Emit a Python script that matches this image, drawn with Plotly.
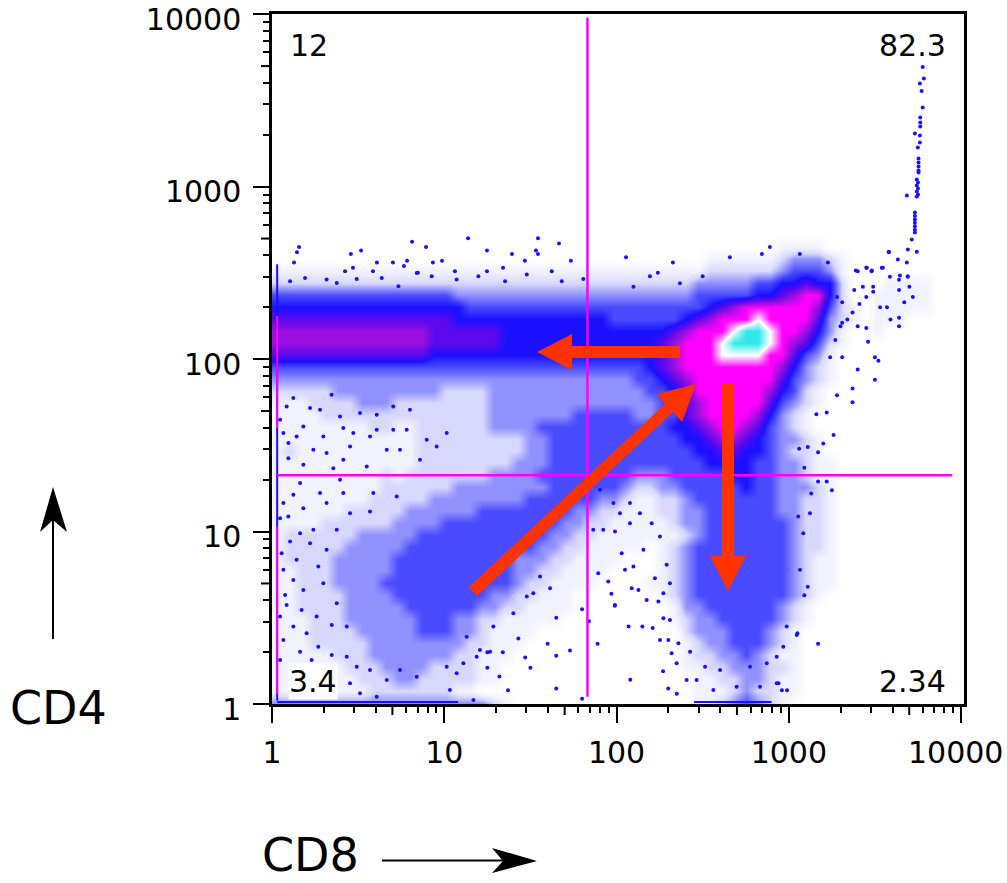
import plotly.graph_objects as go

X_MAJOR = [1, 10, 100, 1000, 10000]
Y_MAJOR = [1, 10, 100, 1000, 10000]
MAJOR_LABELS = ["1", "10", "100", "1000", "10000"]
MINOR_STEPS = [2, 3, 4, 6, 7, 8, 9]
CD8_GATE = 67.8
CD4_GATE = 21.2
QUADRANT_LABELS = ["12", "82.3", "3.4", "2.34"]

# Event density, top to bottom, in columns of 0.0696 decade.
# 0 none .. 5 solid blue .. 8 magenta, 9 white, c cyan
BLANK_ROWS_ON_TOP = 19
DENSITY_ROWS = [
"0000000000 0000000000 0000000000 0000000000 0011110000 00000000",
"0000000000 0000000000 0000000000 0000001111 1123332100 00000000",
"1111111111 1111111111 1111111111 1111112222 2234443100 00000000",
"2222222222 2222222222 2222222222 2222233333 4455655200 01111000",
"4444444444 4444433333 3333333333 3333344444 5567885200 11111000",
"5555555555 5555554444 4444444444 4444445678 8888874210 11111000",
"6666666666 6666655555 5555555544 4444567888 9888863210 11100000",
"7777777777 7776666665 5555555555 555678889c c988753100 10000000",
"7777777777 7776666665 5555555555 55678889cc c987642100 00000000",
"6666666666 6665555555 5555555555 5567888999 9886431000 00000000",
"4444444444 4444444444 4444444444 4567888888 8875321000 00000000",
"3333333333 3333333333 3333333333 4456788888 8864321000 00000000",
"2222233333 3333222233 3333333333 3445688888 8754210000 00000000",
"1112222333 2222222233 3333333333 3345678888 8643210000 00000000",
"1111222222 2222222233 3333344444 3344678888 7532100000 00000000",
"1111111122 1122222233 3344444444 4445567887 6432100000 00000000",
"1111111111 1122222222 2334444444 4444556776 5433210000 00000000",
"1211111111 1122222222 2334444444 4444455665 5432210000 00000000",
"1111111111 1122222222 3334444444 4444445555 4433211000 00000000",
"1111111112 1222222233 3344444444 3334444455 4433211000 00000000",
"1111111112 2222233333 3334444443 2233444445 4433321000 00000000",
"1111111122 2223333333 3444444332 1122344444 4433221000 00000000",
"1111112222 2333333444 4444433221 1122334444 4433221000 00000000",
"1111222222 3333444444 4444332211 1112334444 4443221000 00000000",
"1222222333 3344444444 4443322111 1111234444 4443221000 00000000",
"1222223333 3444444444 4433221111 1012344444 4443221000 00000000",
"1222233333 4444444444 3332211110 0012344444 4443211000 00000000",
"1122233333 4444444444 3322111100 0012344444 4443211000 00000000",
"1122233334 4444444444 3221111000 0112344444 4443211000 00000000",
"1122223333 4444444433 2211100000 0012344444 4443210000 00000000",
"1122223333 3444444332 2111100000 0001334444 4432100000 00000000",
"1112223333 3344433221 1111000000 0001233444 4432100000 00000000",
"1112222333 3344433211 1100000000 0000233344 4321000000 00000000",
"1112222233 3333332211 1000000000 0000123344 4321000000 00000000",
"1111122233 3333322111 0000000000 0000122334 3211000000 00000000",
"1111112223 3332222110 0000000000 0000112233 3221000000 00000000",
"1111111222 3322222110 0000000000 0000011223 3211000000 00000000",
"1111111122 2222211000 0000000000 0000011123 2211000000 00000000",
"3333333333 3333333321 0000000000 0000011234 3210000000 00000000",
]
BIN_DECADES = 0.0696
TOP_BIN_CENTRE_DECADE = 3.971

# Single events, as decades of CD8 and CD4
DIAG_CD8 = [3.777,3.784,3.761,3.771,3.777,3.763,3.763,3.763,3.732,3.761,3.761,3.749,3.753,3.753,3.753,3.753,3.753,
            3.743,3.750,3.743,3.750,3.743,3.750,3.743,3.685,3.732,3.732,3.732,3.732,3.732,3.732,3.732,3.714,3.691,
            3.743,3.581,3.633,3.685,3.691,3.645,3.389,3.453,3.482,3.546,3.587]
DIAG_CD4 = [3.693,3.627,3.598,3.554,3.459,3.401,3.372,3.349,3.308,3.297,3.256,3.227,3.163,3.140,3.117,3.093,3.082,
            3.041,3.024,3.007,2.989,2.972,2.955,2.943,2.948,2.85,2.83,2.81,2.79,2.77,2.75,2.734,2.693,2.635,
            2.623,2.623,2.577,2.56,2.478,2.484,2.513,2.53,2.513,2.53,2.478]
RIGHT_CD8 = [3.28,3.31,3.40,3.45,3.48,3.54,3.49,3.43,3.38,3.37,3.34,3.31,3.40,3.45,3.30,3.57,3.64,3.64,3.59,3.53,
             3.45,3.41,3.49,3.64,3.64,3.67,3.69,3.70,3.72,3.58,
             3.27,3.46,3.50,3.52,3.31,3.24,3.40,3.50,3.37,3.28,3.37,3.22,3.16,3.26,3.20,3.17,3.11,3.06,3.09]
RIGHT_CD4 = [2.36,2.33,2.51,2.53,2.51,2.53,2.42,2.42,2.40,2.27,2.23,2.21,2.19,2.18,2.19,2.30,2.24,2.19,2.23,2.30,
             2.36,2.32,2.39,2.46,2.40,2.33,2.48,2.42,2.36,2.62,
             2.11,2.10,2.01,1.99,2.01,2.01,1.94,1.88,1.83,1.79,1.75,1.69,1.68,1.56,1.51,1.46,1.49,1.48,1.37]
UPPER_CD8 = [.157,.145,.128,.458,.517,.609,.702,.784,.766,.813,.894,.934,.987,1.138,1.248,1.393,1.468,1.544,1.532,
             1.544,1.666,1.735,1.341,1.248,1.062,.847,.586,.470,.424,2.055,2.327,2.658,2.89,2.844,3.064,3.227,
             .105,.192,.317,.376,.492,.637,.734,.840,.927,1.072,1.198,1.353,1.479,1.624,1.682,1.807,2.194,2.24,2.098,2.368,2.50]
UPPER_CD4 = [2.65,2.62,2.56,2.61,2.63,2.56,2.56,2.57,2.54,2.68,2.65,2.56,2.57,2.70,2.63,2.61,2.57,2.70,2.63,
             2.61,2.67,2.57,2.53,2.51,2.51,2.50,2.51,2.53,2.51,2.59,2.56,2.59,2.65,2.61,2.61,2.56,
             2.451,2.470,2.461,2.441,2.465,2.470,2.422,2.499,2.480,2.461,2.480,2.451,2.490,2.509,2.451,2.465,2.48,2.50,2.42,2.44,2.48]
LOWER_CD8 = [1.37,1.32,1.47,1.50,1.60,1.65,1.73,1.65,1.80,1.84,1.65,1.80,1.34,1.25,1.43,1.25,
             2.08,1.89,2.07,2.15,2.21,1.99,1.97,3.17,3.11,3.09,3.05,2.94,2.99,2.96,3.25,3.22,3.17,3.13,2.27,2.30,2.35]
LOWER_CD4 = [.08,.16,.27,.21,.35,.28,.31,.50,.55,.48,.09,.03,.30,.21,.38,.30,
             .14,.35,.45,.45,.44,.57,.64,.35,.68,.63,.41,.12,.08,.08,1.24,1.29,1.29,1.22,.19,.09,.06]
SPARSE_LEFT_CD8 = [.124,.085,.221,.346,.279,.395,.182,.298,.414,.143,.095,.240,.047,.066,.317,.472,.453,.569,.608,.666,
                   .511,.608,.704,.782,.743,.898,.859,.956,1.014,.801,.704,.414,.182,.095,.550,.356,
                   .163,.395,.124,.279,.414,.588,.724,.066,.182,.317,.453,.569,.095,.047,.240,.376,.163,.105,.056,.221,
                   .317,.143,.066,.269,.124,.076,.182,.085,.298,.047,.172,.259,.376,.124,.347,.066,.201,.434,.163,.269,
                   .347,.047,.230,.434,.492,.569,.453,.666,.743,.511,.608,.840,1.014,1.072,1.111,1.188,1.130,1.207,
                   1.033,1.169,1.266,1.285,1.401,1.479,1.556,1.614,1.517]
SPARSE_LEFT_CD4 = [1.774,1.725,1.716,1.793,1.706,1.667,1.609,1.551,1.600,1.551,1.513,1.474,1.648,1.571,1.455,1.571,1.493,1.551,1.590,1.474,
                   1.687,1.677,1.590,1.590,1.474,1.532,1.416,1.493,1.571,1.706,1.725,1.416,1.387,1.425,1.377,1.367,
                   1.281,1.300,1.213,1.223,1.223,1.223,1.203,1.165,1.135,1.165,1.106,1.116,1.087,1.077,1.010,1.010,.990,.942,.874,.932,
                   .894,.836,.778,.797,.719,.632,.661,.574,.700,.507,.545,.507,.584,.449,.458,.371,.410,.449,.303,.332,
                   .284,.255,.255,.274,.216,.197,.120,.139,.197,.062,.042,.158,.216,.178,.236,.274,.390,.313,
                   .081,.023,.303,.449,.526,.623,.739,.671,.642]
SPARSE_GAP_CD8 = [1.865,1.923,1.991,2.078,2.136,2.204,2.252,2.156,2.030,2.098,2.223,2.291,1.894,2.049,1.952,2.088,2.127,
                  2.175,2.243,2.310,2.272,1.991,2.272,2.310,2.252,2.301,2.359,2.320,2.427,2.349,2.407,2.465,2.514,2.601,
                  2.775,2.872,2.930,2.968,3.046,2.988,3.065,3.084,3.055,3.123,2.930,2.833,2.562,2.697,2.020,2.078,1.982,1.904]
SPARSE_GAP_CD4 = [1.010,1.010,1.000,1.048,1.106,1.048,.971,.894,.874,.797,.729,.807,.758,.778,.710,.671,.661,
                  .603,.594,.700,.642,.574,.497,.487,.371,.371,.352,.294,.303,.236,.139,.139,.216,.197,
                  .216,.236,.274,.332,.400,.449,.778,.990,1.087,1.106,.120,.100,.081,.100,1.106,1.165,1.165,1.242]

# ---------- page geometry ----------
W, H = 1007, 883
L, R, T, B = 272, 964, 14, 704
X_DECADES = 4.017
Y_DECADES = 4.001
BLUE = "#1a10ff"
MAGENTA = "#ff00ff"
RED = "#ff3300"
FONT = "DejaVu Sans"

def px(x):
    return (x - L) / (R - L)
def py(y):
    return (B - y) / (B - T)
def poly(points, color):
    d = "M " + " L ".join(f"{px(a):.5f},{py(b):.5f}" for a, b in points) + " Z"
    return dict(type="path", xref="paper", yref="paper", path=d, fillcolor=color,
                line=dict(color=color, width=0), layer="above")
def ex(vals):
    return [10 ** v for v in vals]

rows = ["0" * 58] * BLANK_ROWS_ON_TOP + [r.replace(" ", "") for r in DENSITY_ROWS]
z = [[10 if ch == "c" else int(ch) for ch in row] for row in rows]
n_cols = len(z[0])
grid_x = [10 ** ((i + 0.5) * BIN_DECADES) for i in range(n_cols)]
grid_y = [10 ** (TOP_BIN_CENTRE_DECADE - j * BIN_DECADES) for j in range(len(z))]

fig = go.Figure()
fig.add_trace(go.Heatmap(
    x=grid_x, y=grid_y, z=z, zmin=0, zmax=10, zsmooth="best", showscale=False, hoverinfo="skip",
    colorscale=[[0, "#ffffff"], [.1, "#f2f2ff"], [.2, "#d8d8ff"], [.3, "#9090ff"], [.4, "#4a4aff"],
                [.5, BLUE], [.6, "#5a08ee"], [.7, "#9a10e0"], [.8, MAGENTA], [.9, "#ffffff"], [1, "#30e8e8"]]))

ev_x = DIAG_CD8 + RIGHT_CD8 + UPPER_CD8 + LOWER_CD8 + SPARSE_LEFT_CD8 + SPARSE_GAP_CD8
ev_y = DIAG_CD4 + RIGHT_CD4 + UPPER_CD4 + LOWER_CD4 + SPARSE_LEFT_CD4 + SPARSE_GAP_CD4
fig.add_trace(go.Scatter(x=ex(ev_x), y=ex(ev_y), mode="markers", hoverinfo="skip",
                         marker=dict(size=4, color=BLUE, line=dict(width=0))))

# piled-up events on the axes
for xs, ys, col in [([.03, .03], [2.55, .02], BLUE),
                    ([.03, .03], [2.25, 1.6], MAGENTA),
                    ([.03, .03], [1.03, .06], MAGENTA),
                    ([.03, 1.08], [.012, .012], BLUE),
                    ([2.45, 2.9], [.012, .012], BLUE)]:
    fig.add_trace(go.Scatter(x=ex(xs), y=ex(ys), mode="lines", hoverinfo="skip",
                             line=dict(color=col, width=2)))

# quadrant gates
fig.add_trace(go.Scatter(x=[CD8_GATE, CD8_GATE], y=[9550, 1.1], mode="lines", hoverinfo="skip",
                         line=dict(color=MAGENTA, width=2.5)))
fig.add_trace(go.Scatter(x=[1.07, 8900], y=[CD4_GATE, CD4_GATE], mode="lines", hoverinfo="skip",
                         line=dict(color=MAGENTA, width=2.5)))

shapes = [
    poly([(680, 346), (572, 346), (572, 334), (537, 352), (572, 370), (572, 358), (680, 358)], RED),
    poly([(722, 384), (722, 556), (710, 556), (728, 591), (746, 556), (734, 556), (734, 384)], RED),
    poly([(469, 587), (665, 404), (657, 394), (696, 384), (682, 422), (673, 412), (477, 596)], RED),
    poly([(53, 487), (40, 532), (53, 520), (67, 532)], "#000000"),
    poly([(537, 861), (492, 848), (503, 861), (492, 873)], "#000000"),
    dict(type="line", xref="paper", yref="paper", x0=px(53), x1=px(53), y0=py(639), y1=py(515),
         line=dict(color="#000000", width=2)),
    dict(type="line", xref="paper", yref="paper", x0=px(382), x1=px(510), y0=py(860.5), y1=py(860.5),
         line=dict(color="#000000", width=2)),
]
# half-decade ticks are longer than the other minor ticks
for dec in range(4):
    v = dec + 0.69897
    shapes.append(dict(type="line", xref="paper", yref="paper", x0=v / X_DECADES, x1=v / X_DECADES,
                       y0=py(B), y1=py(B + 11), line=dict(color="#000000", width=2)))
    shapes.append(dict(type="line", xref="paper", yref="paper", x0=px(L), x1=px(L - 11),
                       y0=v / Y_DECADES, y1=v / Y_DECADES, line=dict(color="#000000", width=2)))

minor_x = [m * d for d in X_MAJOR[:4] for m in MINOR_STEPS]
minor_y = [m * d for d in Y_MAJOR[:4] for m in MINOR_STEPS]

axis = dict(type="log", showgrid=False, zeroline=False, showline=True, linecolor="#000000", linewidth=2.5,
            mirror=True, ticks="outside", ticklen=16, tickwidth=2, tickcolor="#000000", ticklabeloverflow="allow",
            tickfont=dict(family=FONT, size=30, color="#000000"))

def ann(text, x, y, anchor, size=30, bg=None):
    return dict(text=text, xref="paper", yref="paper", x=px(x), y=py(y), xanchor=anchor, yanchor="middle",
                showarrow=False, font=dict(family=FONT, size=size, color="#000000"), bgcolor=bg, borderpad=0)

fig.update_layout(
    width=W, height=H, margin=dict(l=L, r=W - R, t=T, b=H - B, autoexpand=False), showlegend=False,
    paper_bgcolor="#ffffff", plot_bgcolor="#ffffff",
    xaxis=dict(axis, range=[0, X_DECADES], tickvals=X_MAJOR, ticktext=MAJOR_LABELS[:4] + [""], ticklabelstandoff=4,
               minor=dict(tickvals=minor_x, ticks="outside", ticklen=6, tickwidth=2, tickcolor="#000000", showgrid=False)),
    yaxis=dict(axis, range=[0, Y_DECADES], tickvals=Y_MAJOR, ticktext=MAJOR_LABELS, ticklabelstandoff=6, ticklabelshift=5,
               minor=dict(tickvals=minor_y, ticks="outside", ticklen=6, tickwidth=2, tickcolor="#000000", showgrid=False)),
    shapes=shapes,
    annotations=[
        ann(QUADRANT_LABELS[0], 289, 45, "left"),
        ann(QUADRANT_LABELS[1], 947, 45, "right"),
        ann(QUADRANT_LABELS[2], 288, 681, "left", bg="#ffffff"),
        ann(QUADRANT_LABELS[3], 947, 681, "right"),
        ann(MAJOR_LABELS[4], 955, 752, "center"),
        ann("CD4", 59, 708, "center", size=46),
        ann("CD8", 310, 855, "center", size=46),
    ],
)
fig.write_html("out.html", config={"displayModeBar": False},
               post_script="document.body.style.margin='0';document.body.style.overflow='hidden';")
